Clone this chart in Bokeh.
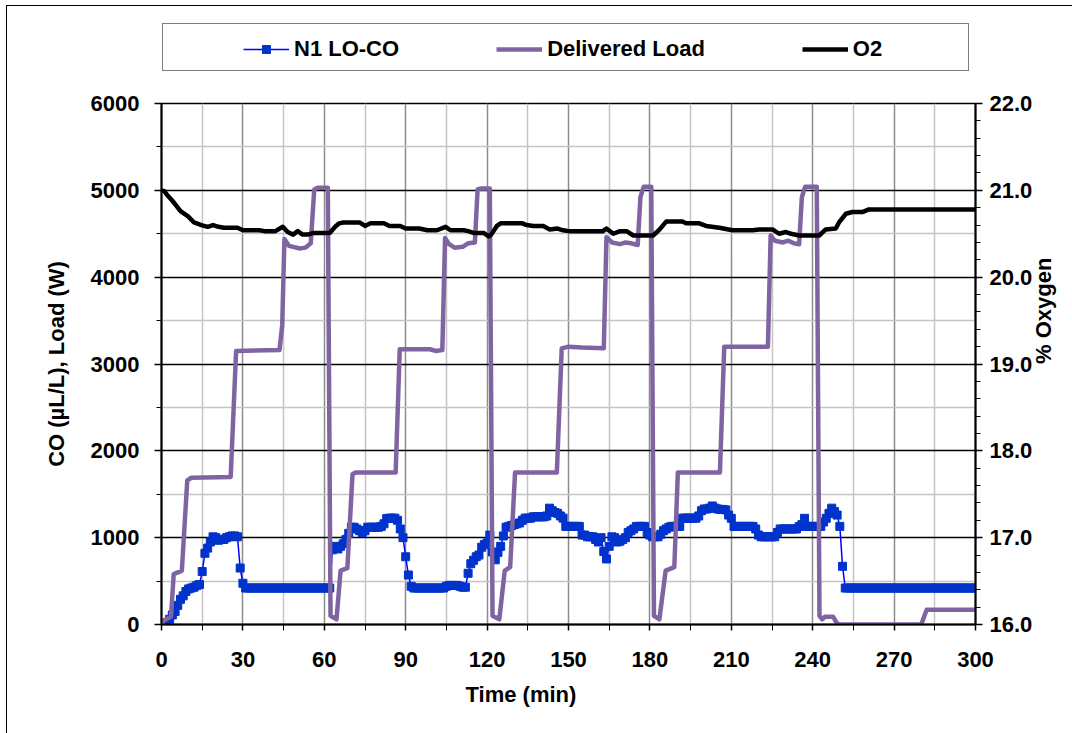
import math
from bokeh.plotting import figure
from bokeh.layouts import column
from bokeh.models import (Range1d, LinearAxis, FixedTicker, Legend, LegendItem,
                          PrintfTickFormatter, Title)
from bokeh.embed import file_html
from bokeh.resources import INLINE

# ---------------- data ----------------
# N1 LO-CO carbon monoxide reading, one sample per minute (t = 0 .. 300 min)
co_time = list(range(0, 301))
co_ppm = [
    0, 0, 20, 60, 110, 150, 220, 290, 330, 380,
    410, 420, 430, 450, 460, 610, 820, 880, 950, 1010,
    1000, 970, 980, 980, 1000, 1010, 1020, 1020, 1010, 650,
    475, 420, 420, 420, 420, 420, 420, 420, 420, 420,
    420, 420, 420, 420, 420, 420, 420, 420, 420, 420,
    420, 420, 420, 420, 420, 420, 420, 420, 420, 420,
    420, 420, 420, 860, 900, 870, 900, 930, 980, 1050,
    1120, 1120, 1100, 1080, 1060, 1080, 1120, 1120, 1120, 1120,
    1120, 1130, 1160, 1220, 1225, 1225, 1225, 1200, 1100, 1000,
    780, 570, 440, 420, 420, 420, 420, 420, 420, 420,
    420, 420, 420, 420, 420, 440, 450, 450, 450, 450,
    440, 430, 430, 590, 700, 740, 780, 800, 890, 920,
    940, 1030, 835, 745, 830, 900, 1020, 1120, 1130, 1140,
    1150, 1160, 1170, 1200, 1225, 1225, 1225, 1240, 1240, 1240,
    1240, 1240, 1250, 1340, 1310, 1290, 1280, 1250, 1225, 1130,
    1130, 1130, 1130, 1130, 1130, 1030, 1030, 1010, 1010, 1010,
    980, 950, 1000, 840, 755, 900, 1010, 1000, 950, 960,
    980, 1000, 1060, 1080, 1100, 1130, 1130, 1130, 1130, 1060,
    1030, 1010, 1010, 1010, 1040, 1080, 1100, 1120, 1130, 1130,
    1130, 1130, 1225, 1225, 1225, 1225, 1225, 1225, 1250, 1310,
    1330, 1330, 1340, 1365, 1340, 1330, 1325, 1325, 1320, 1260,
    1223, 1130, 1130, 1130, 1130, 1130, 1130, 1130, 1130, 1100,
    1030, 1010, 1010, 1010, 1010, 1010, 1010, 1060, 1100, 1100,
    1100, 1100, 1100, 1100, 1100, 1127, 1150, 1223, 1130, 1130,
    1130, 1130, 1130, 1130, 1180, 1223, 1280, 1340, 1300, 1260,
    1130, 670, 420, 420, 420, 420, 420, 420, 420, 420,
    420, 420, 420, 420, 420, 420, 420, 420, 420, 420,
    420, 420, 420, 420, 420, 420, 420, 420, 420, 420,
    420, 420, 420, 420, 420, 420, 420, 420, 420, 420,
    420, 420, 420, 420, 420, 420, 420, 420, 420, 420,
    420,
]

# Delivered load (W), read at its break points
load_time = [0, 1, 3.5, 4.5, 7.5, 9.5, 11, 25.5, 27.5, 43.5, 44.5, 45.3, 47, 51, 53, 55,
             56.3, 57.5, 61.3, 62.3, 64.5, 66, 68.5, 70.4, 71.5, 86.3, 87.8, 99, 101,
             103.5, 104.5, 106, 108, 111, 113, 115.5, 116.5, 117.5, 121, 122, 124.5,
             126.5, 128.5, 130.3, 145.7, 147.5, 150, 155, 163, 164, 166, 169, 171, 173,
             175.5, 176.5, 177.7, 180.5, 181.5, 183.5, 185.8, 189, 190.3, 205.8, 207.4,
             223.5, 224.5, 226, 229, 231, 233, 235, 236, 237.2, 241.5, 242.5, 243.5,
             244.5, 247.5, 249, 250, 280, 282, 300]
load_w = [0, 50, 90, 580, 620, 1660, 1690, 1700, 3150, 3160, 3450, 4440, 4360, 4330, 4340, 4390,
          5010, 5030, 5030, 100, 60, 620, 650, 1730, 1750, 1750, 3170, 3170, 3150,
          3160, 4450, 4380, 4340, 4350, 4390, 4400, 5010, 5020, 5020, 100, 60,
          620, 660, 1750, 1750, 3180, 3200, 3190, 3180, 4460, 4400, 4380, 4400, 4390,
          4370, 4920, 5040, 5040, 100, 60, 620, 660, 1750, 1750, 3200,
          3200, 4480, 4420, 4400, 4420, 4390, 4380, 4920, 5040, 5040, 100, 60,
          90, 90, 10, 0, 0, 170, 170]

# Oxygen (%), secondary axis
o2_time = [0, 1, 2, 4, 5.5, 7, 9.8, 12, 14.7, 17, 19, 21, 23, 28, 30, 36, 38, 42, 44.7,
           46.5, 48.5, 50.2, 52, 54, 56, 62, 64, 65.5, 67, 73, 75, 77, 82, 84, 88, 90,
           95, 98, 101.5, 104.7, 106.5, 111.4, 113, 115, 118.7, 120.6, 121.5, 123.6,
           125, 133, 134.6, 137, 140.7, 143, 146, 148, 150, 162.7, 164, 166.5, 169,
           171.4, 173.9, 181.2, 183.6, 186, 192, 193.3, 198.2, 200.7, 205.6, 210.4,
           217.8, 220.3, 225.2, 227.6, 230.1, 232, 235, 242.4, 244.8, 248.5, 249.7,
           252.2, 254.6, 258.3, 260.7, 262, 300]
o2_pct = [21.00, 20.99, 20.95, 20.88, 20.82, 20.76, 20.70, 20.63, 20.60, 20.58, 20.60,
          20.58, 20.57, 20.57, 20.54, 20.54, 20.53, 20.53, 20.58,
          20.52, 20.49, 20.53, 20.49, 20.49, 20.51, 20.51, 20.58, 20.62, 20.63, 20.63,
          20.59, 20.62, 20.62, 20.59, 20.59, 20.56,
          20.56, 20.54, 20.54, 20.58, 20.54, 20.54, 20.53, 20.51, 20.51, 20.47, 20.49,
          20.59, 20.62, 20.62, 20.60, 20.59, 20.59, 20.55, 20.56, 20.54, 20.53, 20.53,
          20.56, 20.50, 20.53, 20.53, 20.48, 20.48, 20.55, 20.64, 20.64, 20.62, 20.62,
          20.59, 20.57, 20.54, 20.54, 20.55, 20.55, 20.50, 20.52, 20.50, 20.48, 20.48,
          20.55, 20.56, 20.63, 20.73, 20.75, 20.75, 20.78, 20.78, 20.78]

# axis ticks
x_ticks = [0, 30, 60, 90, 120, 150, 180, 210, 240, 270, 300]
x_minor = [15, 45, 75, 105, 135, 165, 195, 225, 255, 285]
y_ticks = [0, 1000, 2000, 3000, 4000, 5000, 6000]
y_minor = [500, 1500, 2500, 3500, 4500, 5500]
o2_ticks = [16, 17, 18, 19, 20, 21, 22]
o2_minor = [16.2, 16.4, 16.6, 16.8, 17.2, 17.4, 17.6, 17.8, 18.2, 18.4, 18.6, 18.8,
            19.2, 19.4, 19.6, 19.8, 20.2, 20.4, 20.6, 20.8, 21.2, 21.4, 21.6, 21.8]

series_names = ["N1 LO-CO", "Delivered Load", "O2"]

# ---------------- styles ----------------
FONT = "Liberation Sans"
CO_LINE = "#0000FF"
CO_MARK = "#0033CC"
LOAD_COL = "#8064A2"

# ---------------- main chart ----------------
p = figure(width=1065, height=647, x_range=Range1d(0, 300), y_range=Range1d(0, 6000),
           output_backend="svg", toolbar_location=None,
           min_border_left=154, min_border_right=97, min_border_top=17, min_border_bottom=109)
p.extra_y_ranges = {"o2": Range1d(16, 22)}
p.background_fill_color = "white"
p.border_fill_color = "white"
p.outline_line_color = "black"
p.outline_line_width = 1.5

xa = p.xaxis[0]
xa.ticker = FixedTicker(ticks=x_ticks, minor_ticks=x_minor)
ya = p.yaxis[0]
ya.ticker = FixedTicker(ticks=y_ticks, minor_ticks=y_minor)
ya.axis_label = "CO (µL/L), Load (W)"
ra = LinearAxis(y_range_name="o2", ticker=FixedTicker(ticks=o2_ticks, minor_ticks=o2_minor),
                formatter=PrintfTickFormatter(format="%.1f"), axis_label="% Oxygen")
p.add_layout(ra, "right")
if "axis_label_orientation" in ra.properties():
    ra.axis_label_orientation = math.pi / 2

for ax in (xa, ya, ra):
    ax.axis_line_color = "black"
    ax.axis_line_width = 2
    ax.major_tick_line_color = "black"
    ax.major_tick_line_width = 1.5
    ax.minor_tick_line_color = "black"
    ax.minor_tick_line_width = 1
    ax.major_label_text_font = FONT
    ax.major_label_text_font_style = "bold"
    ax.major_label_text_font_size = "22px"
    ax.major_label_text_color = "black"
    ax.axis_label_text_font = FONT
    ax.axis_label_text_font_style = "bold"
    ax.axis_label_text_font_size = "22px"
    ax.axis_label_text_color = "black"

xa.major_tick_out = 6; xa.major_tick_in = 0; xa.minor_tick_out = 6; xa.minor_tick_in = 0
xa.major_label_standoff = 21
ya.major_tick_out = 7; ya.major_tick_in = 0; ya.minor_tick_out = 5; ya.minor_tick_in = 0
ya.major_label_standoff = 15
ya.axis_label_standoff = 19
ra.major_tick_out = 7; ra.major_tick_in = 0; ra.minor_tick_out = 5; ra.minor_tick_in = 0
ra.major_label_standoff = 7
ra.axis_label_standoff = 8

p.xgrid.grid_line_color = "#8c8c8c"
p.xgrid.grid_line_width = 1.5
p.xgrid.minor_grid_line_color = "#c4c4c4"
p.xgrid.minor_grid_line_width = 1.5
p.ygrid.grid_line_color = "black"
p.ygrid.grid_line_width = 1.3
p.ygrid.minor_grid_line_color = "#c4c4c4"
p.ygrid.minor_grid_line_width = 1.5

xt = Title(text="Time (min)", align="left", offset=304, text_font=FONT,
           text_font_size="22px", text_font_style="bold", text_color="black", standoff=20)
p.add_layout(xt, "below")

co_line = p.line(co_time, co_ppm, line_color=CO_LINE, line_width=1.5)
co_pts = p.scatter(co_time, co_ppm, marker="square", size=8,
                   fill_color=CO_MARK, line_color=CO_MARK)
load_line = p.line(load_time, load_w, line_color=LOAD_COL, line_width=4.5, line_join="round")
o2_line = p.line(o2_time, o2_pct, line_color="black", line_width=4.5, line_join="round",
                 y_range_name="o2")

# ---------------- legend strip above the chart ----------------
# (its ranges are chosen so that the key renderers stay out of view; only the legend shows)
top = figure(width=1065, height=80, x_range=Range1d(-2, -1), y_range=Range1d(-2, -1),
             output_backend="svg", toolbar_location=None, x_axis_type=None, y_axis_type=None,
             min_border=0)
top.outline_line_color = None
top.xgrid.visible = False
top.ygrid.visible = False
top.background_fill_color = "white"
top.border_fill_color = "white"

k_co_line = top.line(co_time, co_ppm, line_color=CO_LINE, line_width=1.5)
k_co_pts = top.scatter(co_time, co_ppm, marker="square", size=8,
                       fill_color=CO_MARK, line_color=CO_MARK)
k_load = top.line(load_time, load_w, line_color=LOAD_COL, line_width=4.5)
k_o2 = top.line(o2_time, o2_pct, line_color="black", line_width=4.5)
k_none = top.line(load_time, load_w, line_alpha=0)

legend_box = Legend(items=[LegendItem(label=" ", renderers=[k_none])], location=(1, 15),
                    orientation="horizontal", padding=0, margin=0, spacing=0,
                    glyph_width=1, glyph_height=46, label_standoff=0, label_width=804,
                    label_height=46, label_text_font_size="2px",
                    border_line_color="black", border_line_width=1.5,
                    background_fill_color="white", background_fill_alpha=1.0)
legend_items = Legend(items=[LegendItem(label=series_names[0], renderers=[k_co_line, k_co_pts]),
                             LegendItem(label=series_names[1], renderers=[k_load]),
                             LegendItem(label=series_names[2], renderers=[k_o2])],
                      location=(82, 24), orientation="horizontal", padding=0, margin=0,
                      spacing=97, glyph_width=46, glyph_height=20, label_standoff=5,
                      label_height=26,
                      border_line_alpha=0, background_fill_alpha=0,
                      label_text_font=FONT, label_text_font_style="bold",
                      label_text_font_size="22px", label_text_color="black")
top.add_layout(legend_box, "center")
top.add_layout(legend_items, "center")

layout = column(top, p, spacing=0)
layout.styles = {"margin-left": "6px", "margin-top": "5px",
                 "border-left": "1px solid #000000", "border-top": "1px solid #000000"}

open("out.html", "w").write(file_html(layout, INLINE))
